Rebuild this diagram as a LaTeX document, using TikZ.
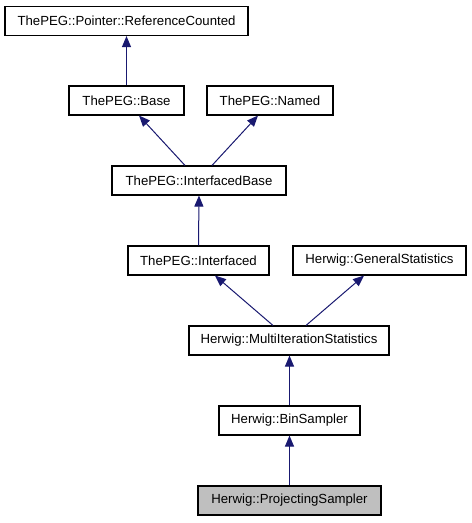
\documentclass[tikz,border=0pt]{standalone}
\usepackage{fontspec}
\setmainfont{Liberation Sans}
\usetikzlibrary{arrows.meta}
\definecolor{edgeblue}{RGB}{25,25,112}
\definecolor{nodegray}{RGB}{191,191,191}
\tikzset{
  cls/.style={draw=black, line width=1.1pt, fill=white, inner sep=0pt, minimum height=29pt,
    font=\fontsize{13.2}{15}\selectfont},
  inh/.style={draw=edgeblue, line width=1pt, -{Triangle[length=11pt,width=9pt,fill=edgeblue]}}
}
\begin{document}
\begin{tikzpicture}[x=1pt,y=-1pt]
\useasboundingbox (0,0) rectangle (472,523);
\node[cls, minimum width=243pt] (rc) at (126.5,21) {ThePEG::Pointer::ReferenceCounted};
\node[cls, minimum width=115pt] (base) at (126.5,100.5) {ThePEG::Base};
\node[cls, minimum width=126pt] (named) at (270,100.5) {ThePEG::Named};
\node[cls, minimum width=174pt] (ib) at (199,180.5) {ThePEG::InterfacedBase};
\node[cls, minimum width=141pt] (itf) at (198.5,260.5) {ThePEG::Interfaced};
\node[cls, minimum width=173pt] (gs) at (379.5,260.5) {Herwig::GeneralStatistics};
\node[cls, minimum width=200pt] (mi) at (289,340.5) {Herwig::MultiIterationStatistics};
\node[cls, minimum width=141pt] (bs) at (289.5,420.5) {Herwig::BinSampler};
\node[cls, minimum width=183pt, fill=nodegray] (ps) at (289.5,500.5) {Herwig::ProjectingSampler};
\draw[inh] (base.north) -- (rc.south);
\draw[inh] ([xshift=-14pt]ib.north) -- ([xshift=12.5pt]base.south);
\draw[inh] ([xshift=13pt]ib.north) -- ([xshift=-12pt]named.south);
\draw[inh] (itf.north) -- (ib.south);
\draw[inh] ([xshift=-16pt]mi.north) -- ([xshift=16.5pt]itf.south);
\draw[inh] ([xshift=17pt]mi.north) -- ([xshift=-15.5pt]gs.south);
\draw[inh] (bs.north) -- (bs.north |- mi.south);
\draw[inh] (ps.north) -- (bs.south);
\end{tikzpicture}
\end{document}
